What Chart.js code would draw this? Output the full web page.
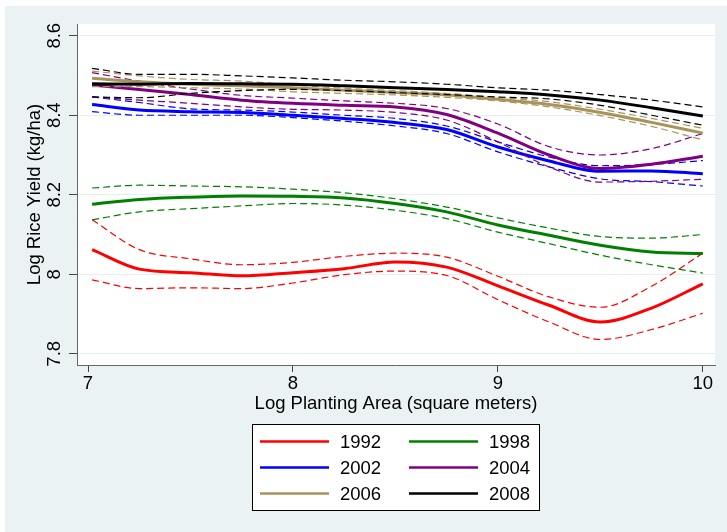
<!DOCTYPE html>
<html>
<head>
<meta charset="utf-8">
<script src="https://cdn.jsdelivr.net/npm/chart.js@4.4.1/dist/chart.umd.min.js"></script>
<style>
  html, body { margin: 0; padding: 0; background: #fff; }
  canvas { display: block; }
</style>
</head>
<body>
<canvas id="lowessChart" width="727" height="532"></canvas>
<script>
var areaX = [7.02, 7.25, 7.5, 7.75, 8, 8.25, 8.5, 8.75, 9, 9.25, 9.5, 9.75, 10];

var years = ['1992', '1998', '2002', '2004', '2006', '2008'];
var yearColors = ['#ff0000', '#008000', '#0000ff', '#800080', '#a8935a', '#000000'];

// fitted line, upper and lower band, per year
var fit1992 = [8.062, 8.013, 8.004, 7.996, 8.004, 8.014, 8.031, 8.018, 7.971, 7.922, 7.880, 7.915, 7.976];
var hi1992  = [8.137, 8.062, 8.039, 8.024, 8.030, 8.045, 8.053, 8.043, 7.995, 7.943, 7.917, 7.970, 8.053];
var lo1992  = [7.986, 7.964, 7.966, 7.964, 7.978, 7.999, 8.008, 7.997, 7.936, 7.880, 7.836, 7.861, 7.902];

var fit1998 = [8.176, 8.188, 8.194, 8.197, 8.196, 8.192, 8.178, 8.157, 8.124, 8.098, 8.073, 8.056, 8.052];
var hi1998  = [8.217, 8.224, 8.222, 8.220, 8.214, 8.205, 8.190, 8.169, 8.142, 8.116, 8.095, 8.091, 8.100];
var lo1998  = [8.137, 8.157, 8.165, 8.172, 8.178, 8.174, 8.161, 8.140, 8.106, 8.077, 8.048, 8.024, 8.003];

var fit2002 = [8.427, 8.413, 8.409, 8.407, 8.400, 8.392, 8.382, 8.364, 8.320, 8.285, 8.259, 8.260, 8.253];
var hi2002  = [8.446, 8.432, 8.416, 8.413, 8.408, 8.400, 8.392, 8.373, 8.333, 8.295, 8.273, 8.276, 8.286];
var lo2002  = [8.409, 8.400, 8.400, 8.400, 8.394, 8.385, 8.373, 8.354, 8.308, 8.270, 8.240, 8.233, 8.222];

var fit2004 = [8.476, 8.465, 8.452, 8.438, 8.430, 8.425, 8.421, 8.402, 8.355, 8.300, 8.266, 8.277, 8.297];
var hi2004  = [8.507, 8.486, 8.466, 8.450, 8.443, 8.436, 8.430, 8.417, 8.378, 8.321, 8.300, 8.316, 8.354];
var lo2004  = [8.446, 8.438, 8.430, 8.421, 8.415, 8.413, 8.407, 8.388, 8.333, 8.270, 8.232, 8.234, 8.239];

var fit2006 = [8.493, 8.484, 8.478, 8.474, 8.469, 8.463, 8.457, 8.451, 8.440, 8.427, 8.407, 8.382, 8.355];
var hi2006  = [8.511, 8.499, 8.490, 8.486, 8.476, 8.468, 8.462, 8.455, 8.445, 8.434, 8.415, 8.392, 8.367];
var lo2006  = [8.472, 8.472, 8.469, 8.466, 8.459, 8.455, 8.451, 8.445, 8.436, 8.421, 8.399, 8.372, 8.338];

var fit2008 = [8.479, 8.478, 8.480, 8.479, 8.478, 8.474, 8.469, 8.465, 8.459, 8.451, 8.438, 8.419, 8.398];
var hi2008  = [8.518, 8.503, 8.503, 8.499, 8.494, 8.488, 8.484, 8.478, 8.469, 8.463, 8.452, 8.438, 8.421];
var lo2008  = [8.446, 8.444, 8.455, 8.462, 8.465, 8.462, 8.457, 8.452, 8.446, 8.441, 8.425, 8.400, 8.375];

var xTicks = [7, 8, 9, 10];
var yTicks = [7.8, 8, 8.2, 8.4, 8.6];

var fits = [fit1992, fit1998, fit2002, fit2004, fit2006, fit2008];
var his = [hi1992, hi1998, hi2002, hi2004, hi2006, hi2008];
var los = [lo1992, lo1998, lo2002, lo2004, lo2006, lo2008];

var FONT = "'Liberation Sans', Arial, sans-serif";

function pts(arr) {
    return arr.map(function(v, i) { return {x: areaX[i], y: v}; });
}

var datasets = [];
years.forEach(function(yr, k) {
    var c = yearColors[k];
    var base = (years.length - k) * 3;
    datasets.push({label: '', band: true, data: pts(his[k]), borderColor: c, borderWidth: 1.2, borderDash: [7, 4], order: base});
    datasets.push({label: '', band: true, data: pts(los[k]), borderColor: c, borderWidth: 1.2, borderDash: [7, 4], order: base});
    datasets.push({label: yr, band: false, data: pts(fits[k]), borderColor: c, borderWidth: 3, order: base - 1});
});

// backgrounds: bluish outer frame, white plot region
var backdrop = {
    id: 'backdrop',
    beforeDraw: function(chart) {
        var ctx = chart.ctx, a = chart.chartArea;
        ctx.save();
        ctx.fillStyle = '#ffffff';
        ctx.fillRect(0, 0, chart.width, chart.height);
        ctx.fillStyle = '#eaf2f3';
        ctx.fillRect(5, 6, chart.width - 5, chart.height - 6);
        ctx.fillStyle = '#ffffff';
        ctx.fillRect(a.left, a.top, a.right - a.left, a.bottom - a.top);
        ctx.restore();
    }
};

// vertical y tick labels + two column legend box
var extras = {
    id: 'extras',
    afterDraw: function(chart) {
        var ctx = chart.ctx;
        var ys = chart.scales.y;
        ctx.save();
        ctx.fillStyle = '#000';
        ctx.font = '18.5px ' + FONT;
        ctx.textAlign = 'center';
        ctx.textBaseline = 'middle';
        ys.ticks.forEach(function(t) {
            var py = ys.getPixelForValue(t.value);
            ctx.save();
            ctx.translate(54.5, py);
            ctx.rotate(-Math.PI / 2);
            ctx.fillText(String(Number(t.value.toFixed(1))), 0, 0);
            ctx.restore();
        });

        // legend
        var bx = 252.5, by = 424.5, bw = 287, bh = 86;
        ctx.fillStyle = '#fff';
        ctx.fillRect(bx, by, bw, bh);
        ctx.strokeStyle = '#000';
        ctx.lineWidth = 1;
        ctx.strokeRect(bx, by, bw, bh);
        var mains = chart.data.datasets.filter(function(d) { return !d.band; });
        ctx.textAlign = 'left';
        mains.forEach(function(d, i) {
            var col = i % 2, row = Math.floor(i / 2);
            var lx = col ? 409 : 260;
            var cy = 441.5 + row * 26;
            ctx.strokeStyle = d.borderColor;
            ctx.lineWidth = 2.5;
            ctx.beginPath();
            ctx.moveTo(lx, cy);
            ctx.lineTo(lx + 69, cy);
            ctx.stroke();
            ctx.fillStyle = '#000';
            ctx.fillText(d.label, lx + 80, cy + 1);
        });
        ctx.restore();
    }
};

var chart = new Chart(document.getElementById('lowessChart').getContext('2d'), {
    type: 'line',
    data: {datasets: datasets},
    options: {
        responsive: false,
        animation: false,
        devicePixelRatio: 1,
        layout: {padding: {left: 0, top: 24, right: 12, bottom: 107}},
        elements: {
            point: {radius: 0},
            line: {tension: 0.4, cubicInterpolationMode: 'monotone', fill: false}
        },
        plugins: {legend: {display: false}, tooltip: {enabled: false}},
        scales: {
            x: {
                type: 'linear',
                min: 6.9463,
                max: 10.0595,
                afterBuildTicks: function(s) { s.ticks = xTicks.map(function(v) { return {value: v}; }); },
                afterFit: function(s) { s.height = 60; },
                grid: {drawOnChartArea: false, drawTicks: true, tickLength: 7, tickColor: '#444', lineWidth: 1},
                border: {display: true, color: '#666', width: 1},
                ticks: {color: '#000', font: {family: FONT, size: 18.5}, padding: 1, maxRotation: 0,
                        callback: function(v) { return String(v); }},
                title: {display: true, text: 'Log Planting Area (square meters)', color: '#000',
                        font: {family: FONT, size: 18.5}, padding: {top: 0, bottom: 10}}
            },
            y: {
                type: 'linear',
                min: 7.7718,
                max: 8.6295,
                afterBuildTicks: function(s) { s.ticks = yTicks.map(function(v) { return {value: v}; }); },
                afterFit: function(s) { s.width = 77; },
                grid: {color: '#e6eef0', lineWidth: 1, drawTicks: true, tickLength: 8, tickColor: '#444'},
                border: {display: true, color: '#666', width: 1},
                ticks: {display: false},
                title: {display: true, text: 'Log Rice Yield (kg/ha)', color: '#000',
                        font: {family: FONT, size: 18.5}, padding: {top: 24, bottom: 0}}
            }
        }
    },
    plugins: [backdrop, extras]
});
</script>
</body>
</html>
